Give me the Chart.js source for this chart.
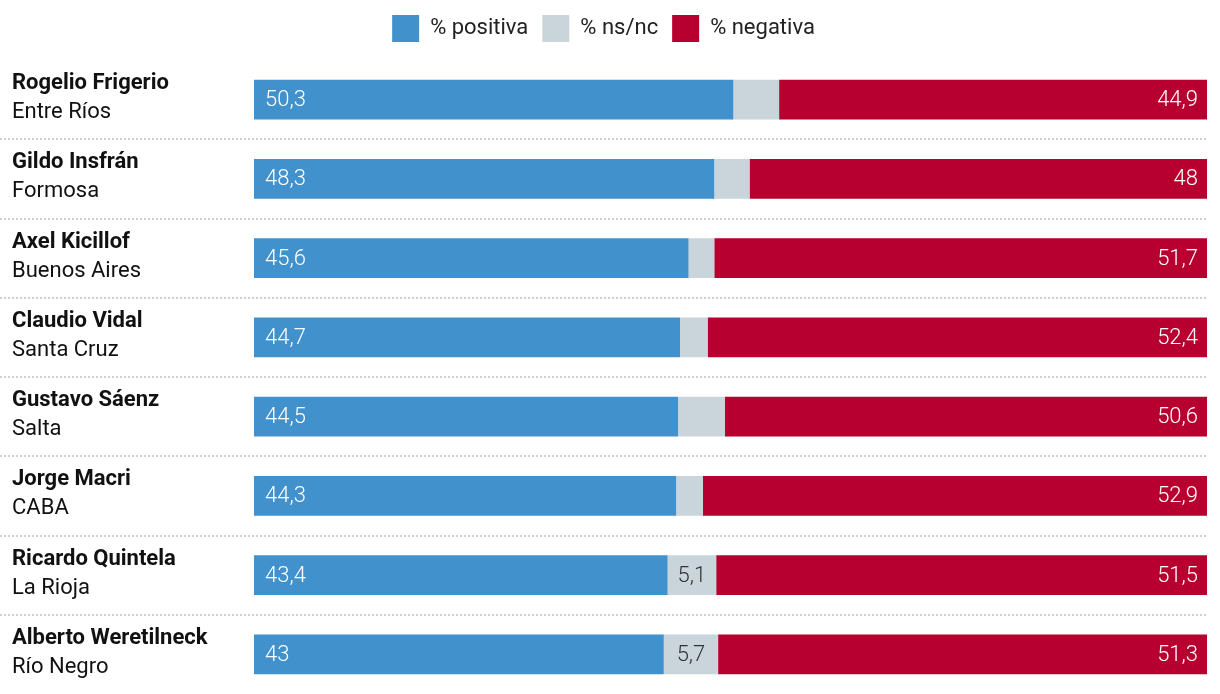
<!DOCTYPE html>
<html>
<head>
<meta charset="utf-8">
<script src="https://cdn.jsdelivr.net/npm/chart.js@4/dist/chart.umd.min.js"></script>
<style>
  html, body { margin: 0; padding: 0; background: #fff; }
  #wrap { width: 1220px; height: 694px; }
</style>
</head>
<body>
<div id="wrap"><canvas id="imagenChart"></canvas></div>
<script>
// datos
const nombres = ['Rogelio Frigerio', 'Gildo Insfrán', 'Axel Kicillof', 'Claudio Vidal',
                 'Gustavo Sáenz', 'Jorge Macri', 'Ricardo Quintela', 'Alberto Weretilneck'];
const provincias = ['Entre Ríos', 'Formosa', 'Buenos Aires', 'Santa Cruz',
                    'Salta', 'CABA', 'La Rioja', 'Río Negro'];
const positiva = [50.3, 48.3, 45.6, 44.7, 44.5, 44.3, 43.4, 43];
const nsnc     = [4.8, 3.7, 2.7, 2.9, 4.9, 2.8, 5.1, 5.7];
const negativa = [44.9, 48, 51.7, 52.4, 50.6, 52.9, 51.5, 51.3];
// solo se muestran algunas etiquetas de ns/nc
const nsncVisible = [false, false, false, false, false, false, true, true];

const fmt = v => String(v).replace('.', ',');

// etiquetas a la izquierda + líneas punteadas entre filas
const etiquetasPlugin = {
    id: 'etiquetas',
    beforeDatasetsDraw(chart) {
        const ctx = chart.ctx;
        const y = chart.scales.y;
        const area = chart.chartArea;
        ctx.save();
        ctx.strokeStyle = '#d0d0d0';
        ctx.lineWidth = 2;
        ctx.setLineDash([2, 2]);
        for (let i = 1; i < nombres.length; i++) {
            const yy = Math.round((y.getPixelForValue(i - 1) + y.getPixelForValue(i)) / 2);
            ctx.beginPath();
            ctx.moveTo(0, yy);
            ctx.lineTo(area.right, yy);
            ctx.stroke();
        }
        ctx.restore();
    },
    afterDatasetsDraw(chart) {
        const ctx = chart.ctx;
        const y = chart.scales.y;
        ctx.save();
        ctx.textBaseline = 'middle';
        nombres.forEach((n, i) => {
            const cy = y.getPixelForValue(i);
            ctx.fillStyle = '#111';
            ctx.textAlign = 'left';
            ctx.font = 'bold 22px "Roboto", sans-serif';
            ctx.fillText(n, 12, cy - 16);
            ctx.font = '22px "Roboto", sans-serif';
            ctx.fillText(provincias[i], 12, cy + 13);
        });

        ctx.font = '300 22px "Roboto", sans-serif';
        const m0 = chart.getDatasetMeta(0).data;
        const m1 = chart.getDatasetMeta(1).data;
        const m2 = chart.getDatasetMeta(2).data;
        for (let i = 0; i < nombres.length; i++) {
            const b0 = m0[i], b1 = m1[i], b2 = m2[i];
            ctx.fillStyle = '#fff';
            ctx.textAlign = 'left';
            ctx.fillText(fmt(positiva[i]), b0.base + 11, b0.y + 1);
            ctx.textAlign = 'right';
            ctx.fillText(fmt(negativa[i]), b2.x - 9, b2.y + 1);
            if (nsncVisible[i]) {
                ctx.fillStyle = '#333';
                ctx.textAlign = 'center';
                ctx.fillText(fmt(nsnc[i]), (b1.base + b1.x) / 2, b1.y + 1);
            }
        }
        ctx.restore();
    }
};

new Chart(document.getElementById('imagenChart'), {
    type: 'bar',
    data: {
        labels: nombres,
        datasets: [
            { label: '% positiva', data: positiva, backgroundColor: '#4191cd' },
            { label: '% ns/nc', data: nsnc, backgroundColor: '#c9d4db' },
            { label: '% negativa', data: negativa, backgroundColor: '#b7002f' }
        ]
    },
    options: {
        indexAxis: 'y',
        responsive: true,
        maintainAspectRatio: false,
        animation: false,
        barPercentage: 0.504,
        categoryPercentage: 1,
        layout: { padding: { left: 0, right: 13, top: 1, bottom: 0 } },
        scales: {
            x: {
                stacked: true, min: 0, max: 100,
                position: 'top',
                grid: { display: false },
                border: { display: false },
                ticks: { display: false },
                afterFit: axis => { axis.height = 8; }
            },
            y: {
                stacked: true,
                grid: { display: false },
                border: { display: false },
                ticks: { display: false },
                afterFit: axis => { axis.width = 254; }
            }
        },
        plugins: {
            legend: {
                position: 'top',
                labels: {
                    boxWidth: 27,
                    boxHeight: 27,
                    padding: 14,
                    color: '#222',
                    font: { size: 22, family: '"Roboto", sans-serif' }
                }
            },
            tooltip: { enabled: false }
        }
    },
    plugins: [etiquetasPlugin]
});
</script>
</body>
</html>
